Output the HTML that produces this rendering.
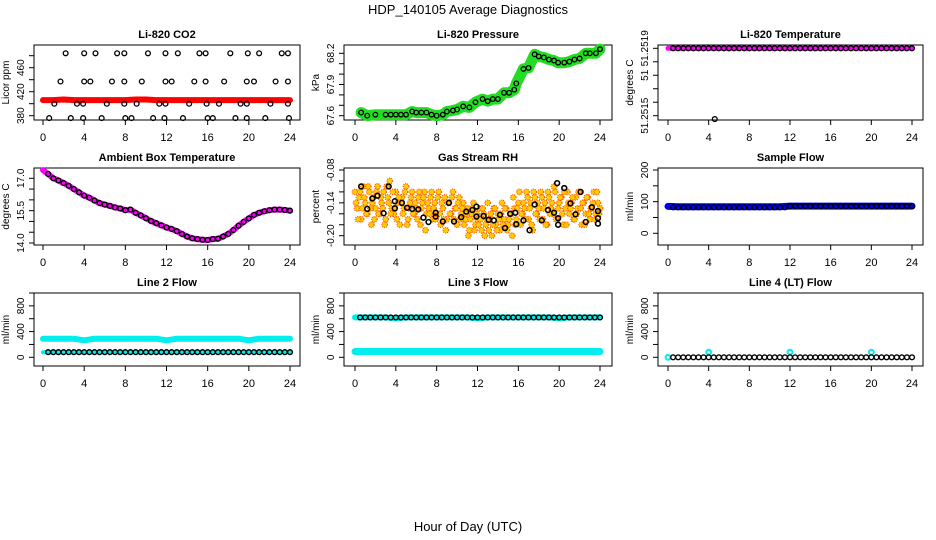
<!DOCTYPE html>
<html><head><meta charset="utf-8">
<style>
html,body{margin:0;padding:0;background:#fff;}
svg{display:block;font-family:"Liberation Sans",sans-serif;}
</style></head>
<body>
<svg id="c" width="936" height="540" viewBox="0 0 936 540">
<text x="468" y="14" text-anchor="middle" font-size="13">HDP_140105  Average Diagnostics</text>
<text x="468" y="531" text-anchor="middle" font-size="13">Hour of Day (UTC)</text>
</svg>
<script>
// ---------- data ----------
const xTicks = [0,4,8,12,16,20,24];
const halfHours = [0.5,1,1.5,2,2.5,3,3.5,4,4.5,5,5.5,6,6.5,7,7.5,8,8.5,9,9.5,10,10.5,11,11.5,12,12.5,13,13.5,14,14.5,15,15.5,16,16.5,17,17.5,18,18.5,19,19.5,20,20.5,21,21.5,22,22.5,23,23.5,24];
const hours = [0,1,2,3,4,5,6,7,8,9,10,11,12,13,14,15,16,17,18,19,20,21,22,23,24];

const co2Hours = [2.2,4.0,5.1,7.2,7.9,10.2,11.9,13.1,15.2,15.8,18.2,19.9,21.0,23.2,23.8,
 1.7,4.0,4.6,6.7,7.9,9.6,11.9,12.5,14.7,15.8,17.6,19.8,20.5,22.6,23.8,
 1.1,3.3,3.9,6.2,7.9,9.1,11.3,11.9,14.2,15.9,17.1,19.2,19.8,22.1,23.8,
 0.6,2.7,3.9,5.7,8.0,8.6,10.7,11.8,13.6,16.0,16.5,18.7,19.8,21.6,23.9];
const co2Vals = [484,484,484,484,484,484,484,484,484,484,484,484,484,484,484,
 437,437,437,437,437,437,437,437,437,437,437,437,437,437,437,
 400,400,400,400,400,400,400,400,400,400,400,400,400,400,400,
 376,376,376,376,376,376,376,376,376,376,376,376,376,376,376];
const co2Band = [406,406,407,406,406,406,406,406,406,407,407,406,406,406,406,406,406,406,406,406,406,406,406,406,406];

const presHours = [0.6,1.2,2,3,3.5,4,4.5,5,5.6,6,6.5,7,7.5,8,8.6,9,9.6,10,10.6,11.2,11.8,12.5,13,13.5,14,14.6,15.1,15.6,15.8,16.5,17,17.6,18,18.5,19,19.5,19.9,20.5,21,21.5,22,22.6,23,23.6,24];
const presVals = [67.63,67.60,67.61,67.61,67.61,67.61,67.61,67.61,67.64,67.63,67.63,67.63,67.61,67.60,67.61,67.64,67.65,67.66,67.69,67.68,67.73,67.76,67.74,67.76,67.76,67.82,67.82,67.85,67.91,68.05,68.06,68.19,68.17,68.16,68.14,68.13,68.11,68.11,68.12,68.14,68.15,68.2,68.2,68.2,68.24];

const tempVals = [51.2519,51.2519,51.2519,51.2519,51.2519,51.2519,51.2519,51.2519,51.2519,51.2519,51.2519,51.2519,51.2519,51.2519,51.2519,51.2519,51.2519,51.2519,51.2519,51.2519,51.2519,51.2519,51.2519,51.2519,51.2519];
const tempOutlierHour = [4.6];
const tempOutlierVal = [51.25148];

const ambHours = [0,0.5,1,1.5,2,2.5,3,3.5,4,4.5,5,5.5,6,6.5,7,7.5,8,8.5,9,9.5,10,10.5,11,11.5,12,12.5,13,13.5,14,14.5,15,15.5,16,16.5,17,17.5,18,18.5,19,19.5,20,20.5,21,21.5,22,22.5,23,23.5,24];
const ambVals = [17.38,17.2,17.0,16.9,16.78,16.65,16.5,16.35,16.2,16.1,15.97,15.85,15.78,15.72,15.65,15.6,15.52,15.55,15.4,15.28,15.15,15.02,14.92,14.82,14.72,14.65,14.55,14.42,14.3,14.22,14.18,14.15,14.14,14.18,14.2,14.3,14.42,14.6,14.8,14.98,15.14,15.3,15.4,15.47,15.52,15.55,15.55,15.53,15.5];

const rhHours = [0.6,1.2,1.7,2.2,2.8,3.3,3.9,3.9,4.6,5.1,5.6,6.2,6.7,7.2,7.9,7.9,8.6,9.2,9.7,10.4,10.9,11.5,11.9,11.9,12.6,13.1,13.6,14.2,14.7,15.2,15.7,15.8,16.5,17.1,17.6,18.3,18.9,19.5,19.8,19.9,19.9,20.5,21.1,21.6,22.1,22.6,23.2,23.8,23.8,23.8];
const rhVals = [-0.11,-0.151,-0.132,-0.127,-0.159,-0.11,-0.137,-0.15,-0.14,-0.149,-0.151,-0.152,-0.167,-0.175,-0.158,-0.165,-0.174,-0.14,-0.174,-0.166,-0.156,-0.153,-0.147,-0.165,-0.164,-0.171,-0.172,-0.162,-0.186,-0.16,-0.158,-0.179,-0.172,-0.19,-0.143,-0.172,-0.153,-0.158,-0.104,-0.168,-0.18,-0.113,-0.141,-0.161,-0.12,-0.175,-0.148,-0.155,-0.168,-0.178];
const rhFineA = [-0.12,-0.15,-0.13,-0.17,-0.11,-0.14,-0.16,-0.12,-0.18,-0.13,-0.15,-0.11,-0.16,-0.14,-0.12,-0.17,-0.13,-0.10,-0.15,-0.16,-0.12,-0.14,-0.18,-0.13,-0.15,-0.11,-0.17,-0.14,-0.12,-0.16,-0.15,-0.13,-0.18,-0.14,-0.12,-0.16,-0.15,-0.13,-0.17,-0.14,-0.16,-0.12,-0.18,-0.15,-0.13,-0.17,-0.14,-0.16,-0.12,-0.15,-0.18,-0.13,-0.16,-0.14,-0.17,-0.15,-0.19,-0.16,-0.14,-0.18,-0.17,-0.15,-0.19,-0.16,-0.18,-0.14,-0.17,-0.20,-0.15,-0.18,-0.16,-0.19,-0.14,-0.17,-0.15,-0.18,-0.16,-0.20,-0.15,-0.17,-0.14,-0.18,-0.16,-0.15,-0.12,-0.17,-0.14,-0.19,-0.13,-0.16,-0.15,-0.12,-0.17,-0.14,-0.18,-0.13,-0.15,-0.16,-0.12,-0.17,-0.14,-0.13,-0.18,-0.15,-0.12,-0.16,-0.14,-0.17,-0.13,-0.15,-0.12,-0.18,-0.14,-0.16,-0.13,-0.17,-0.15,-0.12,-0.16,-0.14,-0.15];
const rhFineB = [-0.14,-0.17,-0.12,-0.15,-0.13,-0.16,-0.11,-0.15,-0.14,-0.17,-0.12,-0.16,-0.13,-0.15,-0.18,-0.11,-0.14,-0.16,-0.12,-0.15,-0.17,-0.13,-0.14,-0.16,-0.12,-0.18,-0.15,-0.13,-0.16,-0.14,-0.17,-0.12,-0.15,-0.13,-0.19,-0.14,-0.16,-0.12,-0.15,-0.17,-0.13,-0.16,-0.14,-0.17,-0.19,-0.14,-0.16,-0.13,-0.17,-0.15,-0.14,-0.17,-0.15,-0.18,-0.16,-0.20,-0.17,-0.15,-0.19,-0.16,-0.18,-0.17,-0.15,-0.20,-0.17,-0.19,-0.16,-0.18,-0.15,-0.19,-0.17,-0.16,-0.18,-0.15,-0.19,-0.17,-0.16,-0.13,-0.18,-0.15,-0.12,-0.16,-0.14,-0.17,-0.13,-0.15,-0.18,-0.12,-0.16,-0.14,-0.17,-0.13,-0.15,-0.18,-0.12,-0.16,-0.14,-0.11,-0.17,-0.15,-0.13,-0.16,-0.12,-0.18,-0.14,-0.15,-0.13,-0.17,-0.16,-0.12,-0.15,-0.14,-0.18,-0.13,-0.16,-0.15,-0.14,-0.17,-0.12,-0.16,-0.15];

const sampleBand = [85,84,84,84,84,84,84,84,84,84,84,84,86,86,86,86,86,86,86,86,86,86,86,86,86];
const sampleBlack = [82,82,82,82,82,82,82,82,82,82,82,82,82,82,82,82,82,82,82,82,82,82,82,86,86,86,86,86,86,86,86,86,86,86,86,86,86,86,86,86,86,86,86,86,86,86,86,86];
const line2Band = [290,290,290,290,265,290,290,290,290,290,290,290,265,290,290,290,290,290,290,290,265,290,290,290,290];
const line2Black = [80,80,80,80,80,80,80,80,80,80,80,80,80,80,80,80,80,80,80,80,80,80,80,80,80,80,80,80,80,80,80,80,80,80,80,80,80,80,80,80,80,80,80,80,80,80,80,80];
const line3BandLow = [90,90,90,90,90,90,90,90,90,90,90,90,90,90,90,90,90,90,90,90,90,90,90,90,90];
const line3BandHigh = [620,620,620,620,605,620,620,620,620,620,620,620,605,620,620,620,620,620,620,620,605,620,620,620,620];
const line3Black = [620,620,620,620,620,620,620,620,620,620,620,620,620,620,620,620,620,620,620,620,620,620,620,620,620,620,620,620,620,620,620,620,620,620,620,620,620,620,620,620,620,620,620,620,620,620,620,620];
const line4Black = [0,0,0,0,0,0,0,0,0,0,0,0,0,0,0,0,0,0,0,0,0,0,0,0,0,0,0,0,0,0,0,0,0,0,0,0,0,0,0,0,0,0,0,0,0,0,0,0];
const line4CyanHours = [0,4,12,20];
const line4CyanVals = [0,80,80,80];

// ---------- drawing ----------
const svg = document.getElementById('c');
const NS = 'http://www.w3.org/2000/svg';
function mk(tag, attrs, parent){
  const e = document.createElementNS(NS, tag);
  for (const k in attrs) e.setAttribute(k, attrs[k]);
  (parent||svg).appendChild(e);
  return e;
}
const cols = [{l:34,r:300,x0:43,x1:290},{l:344,r:612,x0:355,x1:600},{l:658,r:923,x0:668,x1:912}];
const rows = [{t:45,b:120},{t:168,b:245},{t:293,b:366}];

function panel(ci, ri, title, ytitle, yv0, yp0, yv1, yp1, ticks, labels, name){
  const c = cols[ci], r = rows[ri];
  const g = mk('g', {});
  
  
  const sx = h => c.x0 + (h/24)*(c.x1-c.x0);
  const sy = v => yp0 + (v-yv0)/(yv1-yv0)*(yp1-yp0);
  const t = mk('text', {x:(c.l+c.r)/2, y:r.t-7, 'text-anchor':'middle', 'font-size':11, 'font-weight':'bold'}, g);
  t.textContent = title;
  
  
  const box = mk('rect', {x:c.l, y:r.t, width:c.r-c.l, height:r.b-r.t, fill:'none', stroke:'#000', 'stroke-width':1}, g);
  
  
  const xa = mk('g', {}, g);
  
  
  mk('line', {x1:sx(0), x2:sx(24), y1:r.b, y2:r.b, stroke:'#000'}, xa);
  xTicks.forEach(h => {
    mk('line', {x1:sx(h), x2:sx(h), y1:r.b, y2:r.b+5, stroke:'#000'}, xa);
    const tl = mk('text', {x:sx(h), y:r.b+21, 'text-anchor':'middle', 'font-size':11}, xa);
    tl.textContent = h;
  });
  const ya = mk('g', {}, g);
  
  
  mk('line', {x1:c.l, x2:c.l, y1:sy(ticks[0]), y2:sy(ticks[ticks.length-1]), stroke:'#000'}, ya);
  ticks.forEach(v => mk('line', {x1:c.l-5, x2:c.l, y1:sy(v), y2:sy(v), stroke:'#000'}, ya));
  labels.forEach(([v, s]) => {
    const y = sy(v), x = c.l - 10;
    const tl = mk('text', {x:x, y:y, 'text-anchor':'middle', 'font-size':10, transform:`rotate(-90 ${x} ${y})`}, ya);
    tl.textContent = s;
  });
  const yt = mk('text', {x:c.l-25, y:(r.t+r.b)/2, 'text-anchor':'middle', 'font-size':10, transform:`rotate(-90 ${c.l-25} ${(r.t+r.b)/2})`}, g);
  yt.textContent = ytitle;
  
  
  return {g, sx, sy};
}
function band(p, xs, ys, color, w, name){
  const pts = xs.map((h,i) => p.sx(h).toFixed(1) + ',' + p.sy(ys[i]).toFixed(1)).join(' ');
  const pl = mk('polyline', {points:pts, fill:'none', stroke:color, 'stroke-width':w, 'stroke-linejoin':'round', 'stroke-linecap':'round'}, p.g);
  
  
}
function pts(p, xs, ys, opts, name){
  const g = mk('g', {}, p.g);
  
  
  xs.forEach((h,i) => {
    mk('circle', {cx:p.sx(h), cy:p.sy(ys[i]), r:opts.r||2.4, fill:opts.fill||'none', stroke:opts.stroke||'#000', 'stroke-width':opts.sw||1.3, 'stroke-dasharray':opts.dash||'none'}, g);
  });
}
const seq = (arr) => arr.map((_,i) => i*24/(arr.length-1));

let p = panel(0,0,'Li-820 CO2','Licor ppm',380,115.7,460,67.7,[380,400,420,440,460,480],[[380,'380'],[420,'420'],[460,'460']],'co2');
band(p, hours, co2Band, '#ff0000', 6, 'co2-red-band');
pts(p, co2Hours, co2Vals, {}, 'co2-points');

p = panel(1,0,'Li-820 Pressure','kPa',67.6,115.7,68.2,53.3,[67.6,67.7,67.8,67.9,68.0,68.1,68.2],[[67.6,'67.6'],[67.9,'67.9'],[68.2,'68.2']],'pressure');
band(p, presHours, presVals, '#22dd22', 11, 'pressure-green-band');
pts(p, presHours, presVals, {sw:1.3, r:2.3}, 'pressure-points');

p = panel(2,0,'Li-820 Temperature','degrees C',51.2515,115.7,51.2519,48.3,[51.2515,51.25158,51.25166,51.25174,51.25182,51.2519].reverse(),[[51.2519,'51.2519'],[51.25174,'51'],[51.2515,'51.2515']],'temperature');
band(p, hours, tempVals, '#ff00ff', 5, 'temperature-magenta-band');
pts(p, halfHours, tempVals.concat(tempVals).slice(0,48), {}, 'temperature-points');
pts(p, tempOutlierHour, tempOutlierVal, {}, 'temperature-outlier');

p = panel(0,1,'Ambient Box Temperature','degrees C',14.0,243,17.0,178.3,[14,14.5,15,15.5,16,16.5,17],[[14,'14.0'],[15.5,'15.5'],[17,'17.0']],'ambient');
band(p, ambHours, ambVals, '#ff00ff', 6, 'ambient-magenta-band');
pts(p, ambHours.slice(1), ambVals.slice(1), {sw:1.4}, 'ambient-points');

p = panel(1,1,'Gas Stream RH','percent',-0.08,170,-0.20,235.7,[-0.20,-0.18,-0.16,-0.14,-0.12,-0.10,-0.08],[[-0.08,'-0.08'],[-0.14,'-0.14'],[-0.20,'-0.20']],'rh');
pts(p, seq(rhFineA), rhFineA, {fill:'#ffcc00', stroke:'#ff5500', dash:'1,1', r:2.8, sw:1.2}, 'rh-fine-points-a');
pts(p, seq(rhFineB).map(h=>Math.min(24,h+0.1)), rhFineB, {fill:'#ffcc00', stroke:'#ff5500', dash:'1,1', r:2.8, sw:1.2}, 'rh-fine-points-b');
pts(p, rhHours, rhVals, {sw:1.6}, 'rh-points');

p = panel(2,1,'Sample Flow','ml/min',0,233.3,200,170,[0,50,100,150,200],[[0,'0'],[100,'100'],[200,'200']],'sample-flow');
band(p, hours, sampleBand, '#0000ee', 7, 'sample-flow-blue-band');
pts(p, halfHours, sampleBlack, {sw:1.3}, 'sample-flow-points');

const flowTicks = [0,200,400,600,800,1000], flowLabels = [[0,'0'],[400,'400'],[800,'800']];
p = panel(0,2,'Line 2 Flow','ml/min',0,357.3,1000,293,flowTicks,flowLabels,'line2-flow');
band(p, hours, line2Band, '#00eeee', 6, 'line2-cyan-band');
band(p, hours, line2Black.slice(0,25), '#00eeee', 4, 'line2-cyan-low');
pts(p, halfHours, line2Black, {sw:1.4}, 'line2-points');

p = panel(1,2,'Line 3 Flow','ml/min',0,357.3,1000,293,flowTicks,flowLabels,'line3-flow');
band(p, hours, line3BandLow, '#00eeee', 7, 'line3-cyan-low-band');
band(p, hours, line3BandHigh, '#00eeee', 6, 'line3-cyan-high-band');
pts(p, halfHours, line3Black, {sw:1.4}, 'line3-points');

p = panel(2,2,'Line 4 (LT) Flow','ml/min',0,357.3,1000,293,flowTicks,flowLabels,'line4-flow');
pts(p, line4CyanHours, line4CyanVals, {stroke:'#00eeee', sw:2}, 'line4-cyan-points');
pts(p, halfHours, line4Black, {sw:1.4}, 'line4-points');
</script>
</body></html>
